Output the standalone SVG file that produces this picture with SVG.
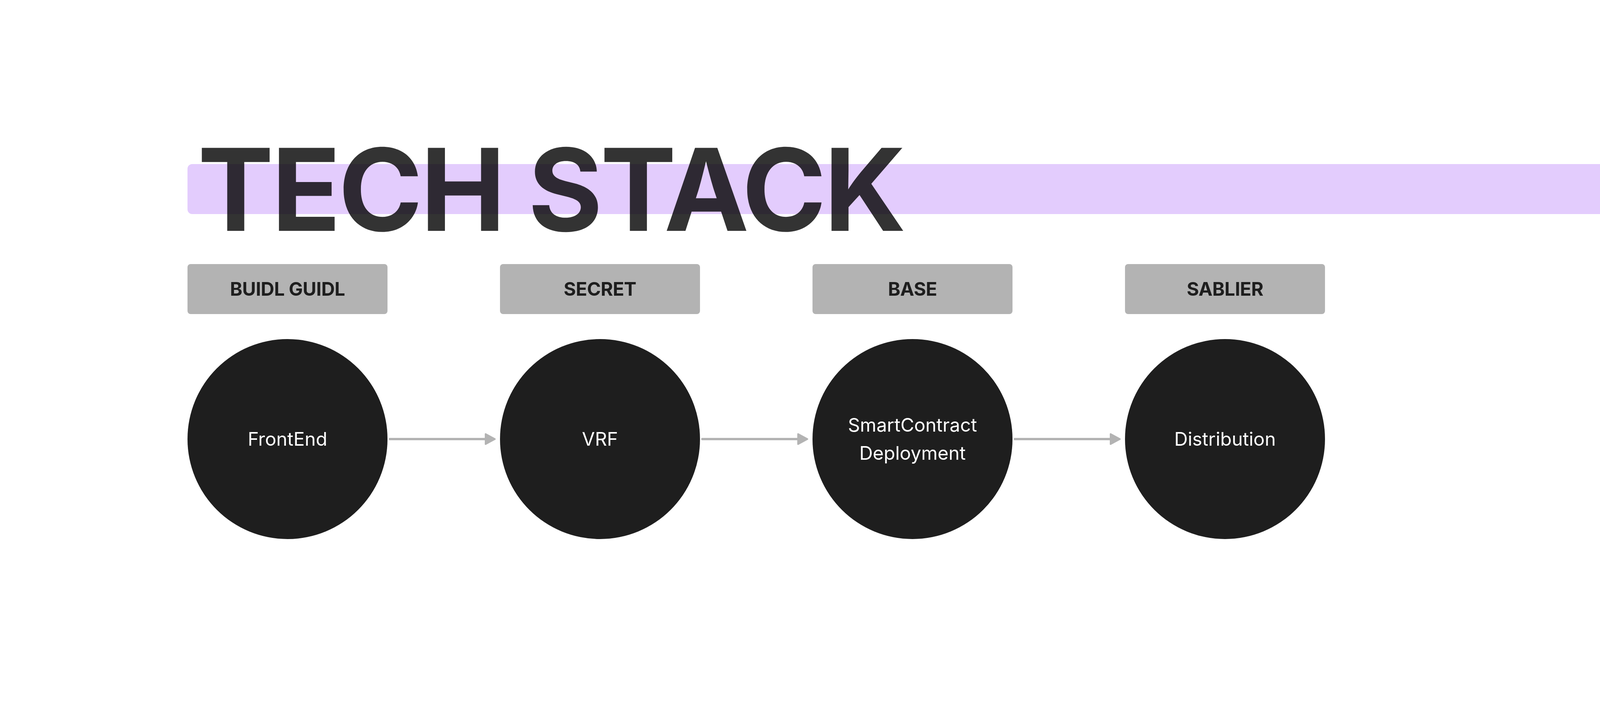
<svg xmlns="http://www.w3.org/2000/svg" width="6272" height="1856" viewBox="0 0 6272 1856">
<defs>
<style>
.title{font-family:Inter,"Liberation Sans",sans-serif;font-weight:700;font-size:292px;letter-spacing:-6px;fill:#333333}
.band{fill:#E3CCFD;mix-blend-mode:multiply}
.tag rect{fill:#B3B3B3}
.tag text{font-family:Inter,"Liberation Sans",sans-serif;font-weight:700;font-size:48px;letter-spacing:-0.5px;fill:#1E1E1E;text-anchor:middle}
.node circle{fill:#1E1E1E}
.node text{font-family:Inter,"Liberation Sans",sans-serif;font-weight:400;font-size:48px;fill:#FFFFFF;text-anchor:middle}
.conn{stroke:#B3B3B3;stroke-width:6;stroke-linecap:round;fill:none;marker-end:url(#arrow)}
</style>
<marker id="arrow" markerUnits="userSpaceOnUse" viewBox="-5 -20 40 40" markerWidth="40" markerHeight="40" refX="0" refY="0" orient="auto">
<path d="M0,-13 L24,0 L0,13 Z" fill="#B3B3B3" stroke="#B3B3B3" stroke-width="4" stroke-linejoin="round"/>
</marker>
</defs>
<rect width="6272" height="1856" fill="#FFFFFF"/>
<g id="title">
<text class="title" x="506" y="591">TECH STACK</text>
<rect class="band" x="480" y="420" width="5312" height="128" rx="12"/>
</g>
<g id="tag-buidl" class="tag"><rect x="480" y="676" width="512" height="128" rx="8"/><text x="736" y="757">BUIDL GUIDL</text></g>
<g id="tag-secret" class="tag"><rect x="1280" y="676" width="512" height="128" rx="8"/><text x="1536" y="757">SECRET</text></g>
<g id="tag-base" class="tag"><rect x="2080" y="676" width="512" height="128" rx="8"/><text x="2336" y="757">BASE</text></g>
<g id="tag-sablier" class="tag"><rect x="2880" y="676" width="512" height="128" rx="8"/><text x="3136" y="757">SABLIER</text></g>
<g id="node-frontend" class="node"><circle cx="736" cy="1124" r="256"/><text x="736" y="1141">FrontEnd</text></g>
<g id="node-vrf" class="node"><circle cx="1536" cy="1124" r="256"/><text x="1536" y="1141">VRF</text></g>
<g id="node-smartcontract" class="node"><circle cx="2336" cy="1124" r="256"/><text x="2336" y="1105">SmartContract</text><text x="2336" y="1177">Deployment</text></g>
<g id="node-distribution" class="node"><circle cx="3136" cy="1124" r="256"/><text x="3136" y="1141">Distribution</text></g>
<g id="connectors">
<line class="conn" x1="998" y1="1124" x2="1243" y2="1124"/>
<line class="conn" x1="1798" y1="1124" x2="2043" y2="1124"/>
<line class="conn" x1="2598" y1="1124" x2="2843" y2="1124"/>
</g>
</svg>
